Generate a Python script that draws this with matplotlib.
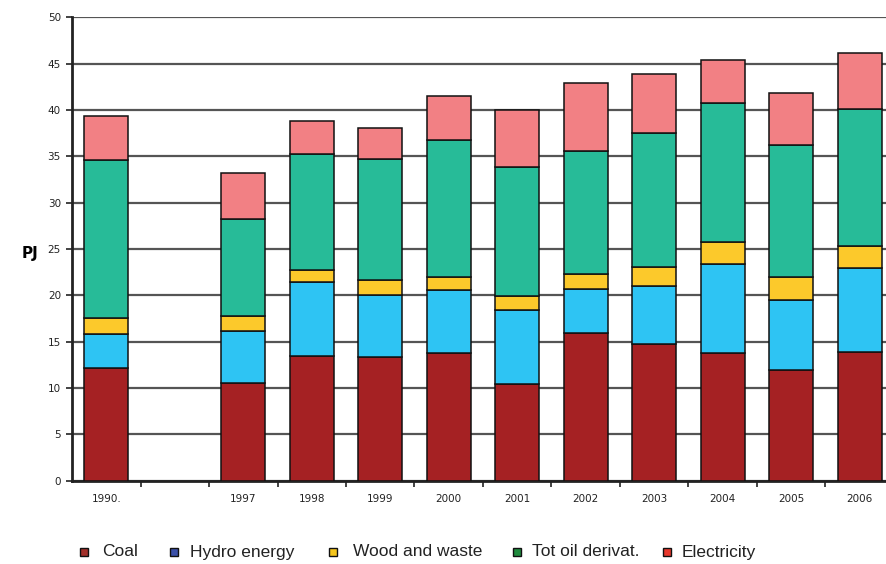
import numpy as np
import matplotlib
matplotlib.use("Agg")
import matplotlib.pyplot as plt
from matplotlib.patches import Rectangle

# energy consumption by source, PJ
years = ["1990.", "", "1997", "1998", "1999", "2000", "2001", "2002", "2003", "2004", "2005", "2006"]
coal = [12.2, 0, 10.5, 13.5, 13.3, 13.8, 10.4, 15.95, 14.7, 13.75, 11.9, 13.9]
hydro = [3.6, 0, 5.6, 7.9, 6.75, 6.8, 8.0, 4.75, 6.3, 9.65, 7.6, 9.0]
wood = [1.8, 0, 1.7, 1.3, 1.55, 1.4, 1.5, 1.6, 2.0, 2.3, 2.5, 2.4]
oil = [17.0, 0, 10.4, 12.6, 13.1, 14.8, 13.9, 13.3, 14.5, 15.0, 14.2, 14.8]
elec = [4.8, 0, 5.0, 3.5, 3.4, 4.7, 6.2, 7.3, 6.4, 4.7, 5.6, 6.0]

bar_cols = ["#A52123", "#2EC4F3", "#FCC92B", "#27BB98", "#F28084"]
legend_cols = ["#A3302A", "#3B50A8", "#F4C51C", "#1F8B3E", "#E8382C"]
names = ["Coal", "Hydro energy", "Wood and waste", "Tot oil derivat.", "Electricity"]

fig = plt.figure(figsize=(8.86, 5.64), dpi=100)
ax = fig.add_axes([72 / 886, 83.4 / 564, 822 / 886, 463.3 / 564])

x = np.arange(len(years))
present = np.array([y != "" for y in years])
bottom = np.zeros(len(years))
for vals, col in zip([coal, hydro, wood, oil, elec], bar_cols):
    v = np.array(vals)
    ax.bar(x[present], v[present], 0.64, bottom=bottom[present], color=col,
           edgecolor="#111111", linewidth=1.1, zorder=3)
    bottom += v

ax.set_xlim(-0.5, len(years) - 0.5)
ax.set_ylim(0, 50)
ax.set_yticks(np.arange(0, 51, 5))
ax.yaxis.grid(True, color="#555555", linewidth=1.6, zorder=0)
ax.set_axisbelow(True)

ax.set_xticks(x)
ax.set_xticklabels(years, fontsize=7.5, color="#222222")
ax.set_xticks(np.arange(0.5, len(years) - 0.5, 1), minor=True)
ax.tick_params(axis="x", which="major", length=0, pad=10)
ax.tick_params(axis="x", which="minor", length=4, width=1.2, color="#222222", direction="out")
ax.tick_params(axis="y", length=4, width=1.2, color="#222222", labelsize=7.5, labelcolor="#222222", pad=4)

for s in ["top", "right"]:
    ax.spines[s].set_visible(False)
ax.spines["left"].set_linewidth(2)
ax.spines["bottom"].set_linewidth(2)
ax.spines["left"].set_color("#222222")
ax.spines["bottom"].set_color("#222222")

fig.text(22 / 886, 1 - 253 / 564, "PJ", fontsize=11, fontweight="bold", ha="left", va="center")

# legend row along the bottom
marker_x = [80, 170, 329, 513, 663]
text_x = [102, 190, 353, 532, 682]
ly = 1 - 552 / 564
for mx, tx, col, name in zip(marker_x, text_x, legend_cols, names):
    fig.add_artist(Rectangle((mx / 886, ly - 4 / 564), 8 / 886, 8 / 564,
                             transform=fig.transFigure, facecolor=col,
                             edgecolor="#111111", linewidth=1))
    fig.text(tx / 886, ly, name, fontsize=12.5, family="Liberation Sans",
             ha="left", va="center", color="#222222")

fig.savefig("out.png", dpi=100)
